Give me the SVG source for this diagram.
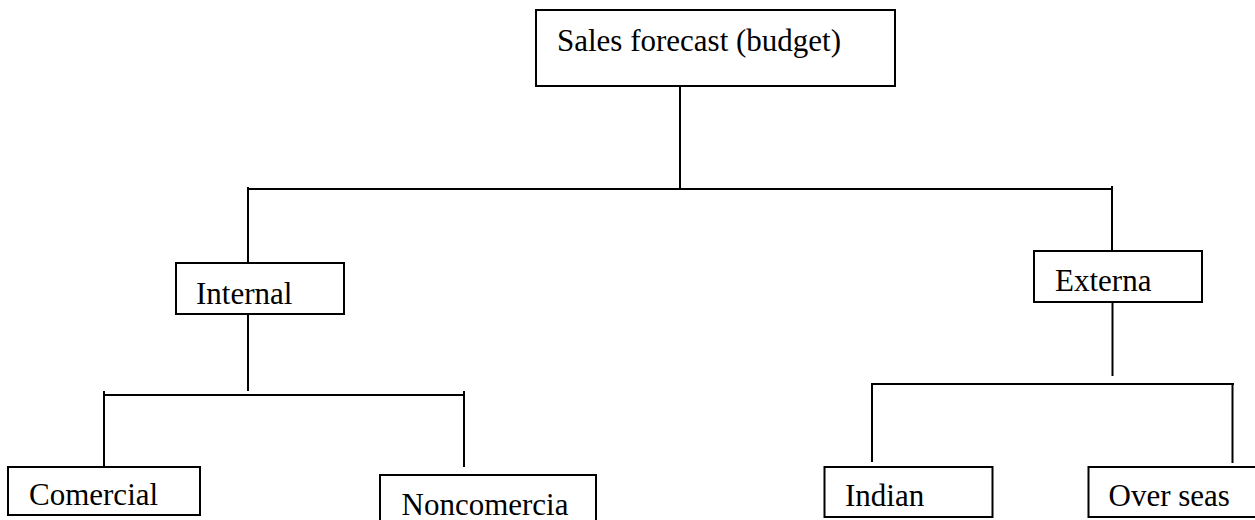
<svg xmlns="http://www.w3.org/2000/svg" width="1255" height="520" viewBox="0 0 1255 520">
<style>
.box{fill:#fff;stroke:#000;stroke-width:2}
.lbl{font-family:"Liberation Serif","Times New Roman",serif;font-size:31px;fill:#000}
.con line{stroke:#000;stroke-width:2}
</style>
<rect width="1255" height="520" fill="#fff"/>
<g class="con" id="connectors">
<line x1="680" y1="86" x2="680" y2="189"/>
<line x1="247" y1="189" x2="1113" y2="189"/>
<line x1="248" y1="187" x2="248" y2="263"/>
<line x1="1112" y1="186" x2="1112" y2="251"/>
<line x1="248" y1="314" x2="248" y2="391"/>
<line x1="103" y1="395" x2="465" y2="395"/>
<line x1="104" y1="391" x2="104" y2="467"/>
<line x1="464" y1="391" x2="464" y2="467"/>
<line x1="1112.5" y1="300" x2="1112.5" y2="376"/>
<line x1="871" y1="384" x2="1234" y2="384"/>
<line x1="872" y1="384" x2="872" y2="462"/>
<line x1="1232.5" y1="384" x2="1232.5" y2="463"/>
</g>
<g id="node-sales">
<rect class="box" x="536" y="10" width="359" height="76"/>
<text class="lbl" x="557" y="51">Sales forecast (budget)</text>
</g>
<g id="node-internal">
<rect class="box" x="176" y="263" width="168" height="51"/>
<text class="lbl" x="196" y="304">Internal</text>
</g>
<g id="node-externa">
<rect class="box" x="1034" y="251" width="168" height="51"/>
<text class="lbl" x="1055" y="291">Externa</text>
</g>
<g id="node-comercial">
<rect class="box" x="8" y="467" width="192" height="48"/>
<text class="lbl" x="29" y="505">Comercial</text>
</g>
<g id="node-noncomercia">
<rect class="box" x="380" y="475" width="216" height="60"/>
<text class="lbl" x="401.5" y="515">Noncomercia</text>
</g>
<g id="node-indian">
<rect class="box" x="824.5" y="467" width="168" height="50"/>
<text class="lbl" x="845" y="506">Indian</text>
</g>
<g id="node-overseas">
<rect class="box" x="1088.5" y="467" width="180" height="50"/>
<text class="lbl" x="1108.5" y="506">Over seas</text>
</g>
</svg>
